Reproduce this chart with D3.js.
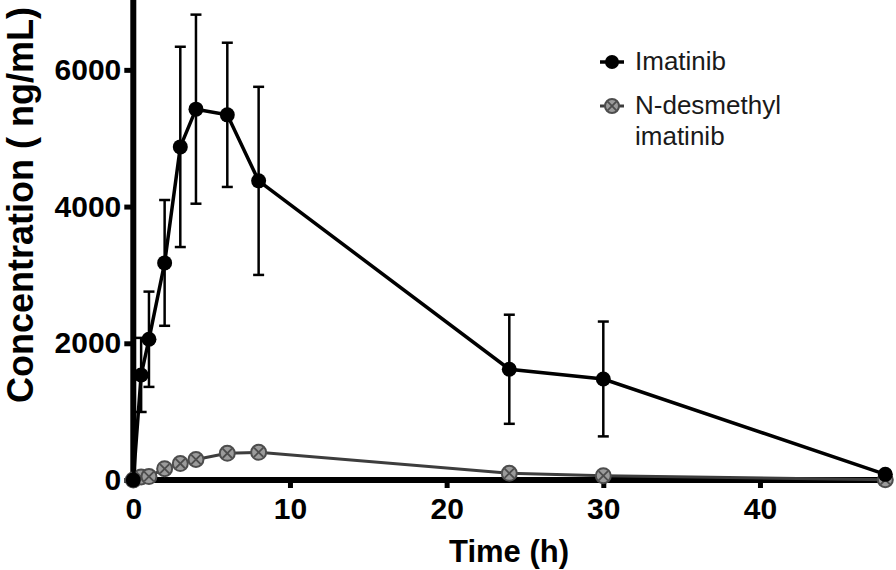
<!DOCTYPE html>
<html>
<head>
<meta charset="utf-8">
<script src="https://cdn.jsdelivr.net/npm/d3@7"></script>
<style>
  html, body { margin: 0; padding: 0; background: #fff; }
  svg { display: block; }
</style>
</head>
<body>
<svg id="chart" width="896" height="570"></svg>
<script>
// ---- data ----
const times = [0, 0.5, 1, 2, 3, 4, 6, 8, 24, 30, 48];
const imatinibMean = [0, 1537, 2059, 3176, 4873, 5425, 5342, 4376, 1620, 1478, 83];
const imatinibSD = [0, 542, 697, 920, 1465, 1383, 1055, 1376, 798, 840, 0];
const desmethylMean = [0, 45, 50, 165, 240, 300, 390, 405, 98, 63, 5];
const xTicks = [0, 10, 20, 30, 40];
const yTicks = [0, 2000, 4000, 6000];
const seriesNames = ["Imatinib", "N-desmethyl", "imatinib"];
const axisTitles = { x: "Time (h)", y: "Concentration ( ng/mL)" };

const FONT = "'Liberation Sans', Arial, Helvetica, sans-serif";
const svg = d3.select("#chart");

const x = d3.scaleLinear().domain([0, 48]).range([133.3, 885.3]);
const y = d3.scaleLinear().domain([0, 7000]).range([480, 1.5]);

// ---- axes ----
const gx = svg.append("g").attr("transform", "translate(0,480)")
  .call(d3.axisBottom(x).tickValues(xTicks).tickFormat(d3.format("d"))
    .tickSize(8).tickPadding(10).tickSizeOuter(0));
gx.select(".domain").remove();
gx.selectAll(".tick line").attr("stroke", "#000").attr("stroke-width", 5);
gx.selectAll(".tick text").attr("font-family", FONT).attr("font-weight", "bold")
  .attr("font-size", 30).attr("fill", "#000");

const gy = svg.append("g").attr("transform", "translate(133.3,0)")
  .call(d3.axisLeft(y).tickValues(yTicks).tickFormat(d3.format("d"))
    .tickSize(9).tickPadding(3).tickSizeOuter(0));
gy.select(".domain").remove();
gy.selectAll(".tick line").attr("stroke", "#000").attr("stroke-width", 5);
gy.selectAll(".tick text").attr("font-family", FONT).attr("font-weight", "bold")
  .attr("font-size", 30).attr("fill", "#000");

// axis lines
svg.append("line").attr("x1", x(0) - 3).attr("x2", x(48) + 6)
  .attr("y1", y(0)).attr("y2", y(0)).attr("stroke", "#000").attr("stroke-width", 6);
svg.append("line").attr("x1", x(0)).attr("x2", x(0))
  .attr("y1", 0).attr("y2", y(0) + 3).attr("stroke", "#000").attr("stroke-width", 6);

// axis titles
svg.append("text").attr("x", 509).attr("y", 562).attr("text-anchor", "middle")
  .attr("font-family", FONT).attr("font-weight", "bold").attr("font-size", 31)
  .text(axisTitles.x);
svg.append("text").attr("transform", "translate(33,205) rotate(-90)")
  .attr("text-anchor", "middle")
  .attr("font-family", FONT).attr("font-weight", "bold").attr("font-size", 36)
  .text(axisTitles.y);

// ---- N-desmethyl imatinib ----
const desData = times.map((t, i) => ({ t, v: desmethylMean[i] }));
const line = d3.line().x(d => x(d.t)).y(d => y(d.v));
svg.append("path").datum(desData).attr("d", line)
  .attr("fill", "none").attr("stroke", "#3d3d3d").attr("stroke-width", 3);

function crossMarker(g, cx, cy, r) {
  g.append("circle").attr("cx", cx).attr("cy", cy).attr("r", r)
    .attr("fill", "#9b9b9b").attr("stroke", "#4d4d4d").attr("stroke-width", 2);
  const k = r * 0.62;
  g.append("line").attr("x1", cx - k).attr("y1", cy - k).attr("x2", cx + k).attr("y2", cy + k)
    .attr("stroke", "#4d4d4d").attr("stroke-width", 1.8);
  g.append("line").attr("x1", cx - k).attr("y1", cy + k).attr("x2", cx + k).attr("y2", cy - k)
    .attr("stroke", "#4d4d4d").attr("stroke-width", 1.8);
}
const gDes = svg.append("g");
desData.forEach(d => crossMarker(gDes, x(d.t), y(d.v), 7.5));

// ---- Imatinib ----
const imaData = times.map((t, i) => ({ t, v: imatinibMean[i], sd: imatinibSD[i] }));
const gErr = svg.append("g");
imaData.filter(d => d.sd > 0).forEach(d => {
  const cx = x(d.t), top = y(d.v + d.sd), bot = y(d.v - d.sd);
  gErr.append("line").attr("x1", cx).attr("x2", cx).attr("y1", top).attr("y2", bot)
    .attr("stroke", "#000").attr("stroke-width", 2.5);
  [top, bot].forEach(yy => gErr.append("line").attr("x1", cx - 5.5).attr("x2", cx + 5.5)
    .attr("y1", yy).attr("y2", yy).attr("stroke", "#000").attr("stroke-width", 2.5));
});
svg.append("path").datum(imaData).attr("d", line)
  .attr("fill", "none").attr("stroke", "#000").attr("stroke-width", 3.5);
svg.append("g").selectAll("circle").data(imaData).join("circle")
  .attr("cx", d => x(d.t)).attr("cy", d => y(d.v)).attr("r", 7.5).attr("fill", "#000");

// ---- legend ----
const lg = svg.append("g");
lg.append("line").attr("x1", 600).attr("x2", 624).attr("y1", 62).attr("y2", 62)
  .attr("stroke", "#000").attr("stroke-width", 3.5);
lg.append("circle").attr("cx", 612).attr("cy", 62).attr("r", 7).attr("fill", "#000");
lg.append("text").attr("x", 635).attr("y", 70).attr("font-family", FONT)
  .attr("font-size", 26).attr("fill", "#1a1a1a").text(seriesNames[0]);
lg.append("line").attr("x1", 600).attr("x2", 624).attr("y1", 106).attr("y2", 106)
  .attr("stroke", "#3d3d3d").attr("stroke-width", 3);
crossMarker(lg, 612, 106, 7);
lg.append("text").attr("x", 635).attr("y", 114).attr("font-family", FONT)
  .attr("font-size", 26).attr("fill", "#1a1a1a").text(seriesNames[1]);
lg.append("text").attr("x", 635).attr("y", 145).attr("font-family", FONT)
  .attr("font-size", 26).attr("fill", "#1a1a1a").text(seriesNames[2]);
</script>
</body>
</html>
